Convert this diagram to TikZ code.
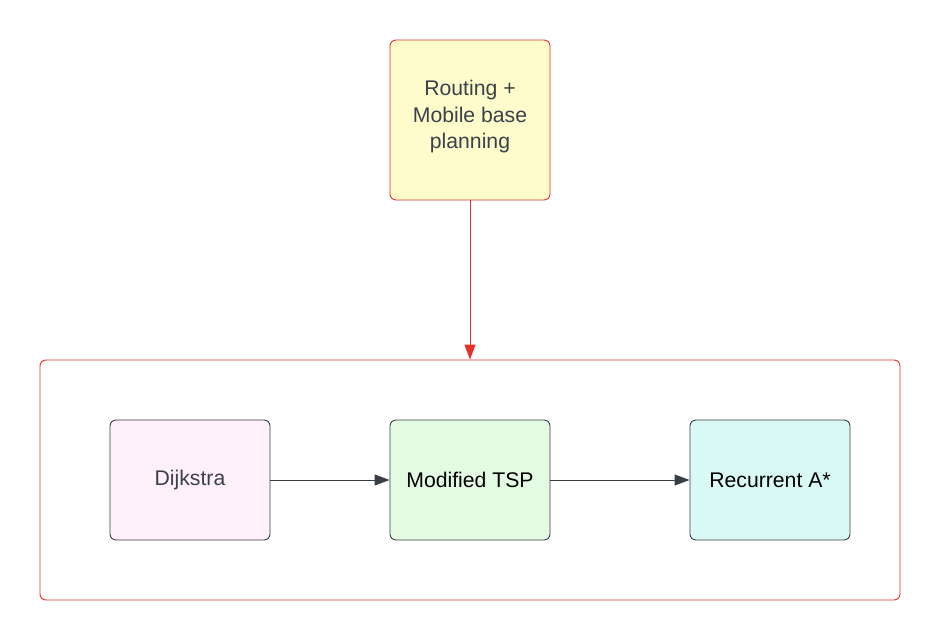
\documentclass[tikz,border=0pt]{standalone}
\usepackage{fontspec}
\setmainfont{Liberation Sans}
\usetikzlibrary{arrows.meta}
\definecolor{redline}{HTML}{E8302A}
\definecolor{grayline}{HTML}{3A3F47}
\definecolor{txtgray}{HTML}{3A414A}
\definecolor{yellowfill}{HTML}{FEFCCB}
\definecolor{pinkfill}{HTML}{FFF0FA}
\definecolor{greenfill}{HTML}{E3FAE3}
\definecolor{cyanfill}{HTML}{D8F9F4}
\tikzset{
  box/.style={draw=grayline, line width=0.9pt, rounded corners=6pt, minimum width=160pt, minimum height=120pt, inner sep=0pt, font=\fontsize{21.2}{26.5}\selectfont, align=center},
  conn/.style={draw=grayline, line width=0.9pt, -{Triangle[length=15pt,width=11pt]}},
}
\begin{document}
\begin{tikzpicture}[x=1pt,y=-1pt]
\useasboundingbox (0,0) rectangle (940,640);
\node[box, draw=redline, fill=yellowfill, text=txtgray, minimum height=160pt] (top) at (470,120) {\raisebox{0pt}[\height][\dimexpr\depth+6pt\relax]{\begin{tabular}{@{}c@{}}Routing +\\Mobile base\\planning\end{tabular}}};
\node[draw=redline, line width=0.9pt, rounded corners=6pt, minimum width=860pt, minimum height=240pt, inner sep=0pt] (frame) at (470,480) {};
\node[box, fill=pinkfill, text=txtgray] (dij) at (190,480) {Dijkstra};
\node[box, fill=greenfill, text=black] (tsp) at (470,480) {Modified TSP};
\node[box, fill=cyanfill, text=black] (astar) at (770,480) {Recurrent A*};
\draw[conn, draw=redline] (top.south) -- (frame.north);
\draw[conn] (dij.east) -- (tsp.west);
\draw[conn] (tsp.east) -- (astar.west);
\end{tikzpicture}
\end{document}
